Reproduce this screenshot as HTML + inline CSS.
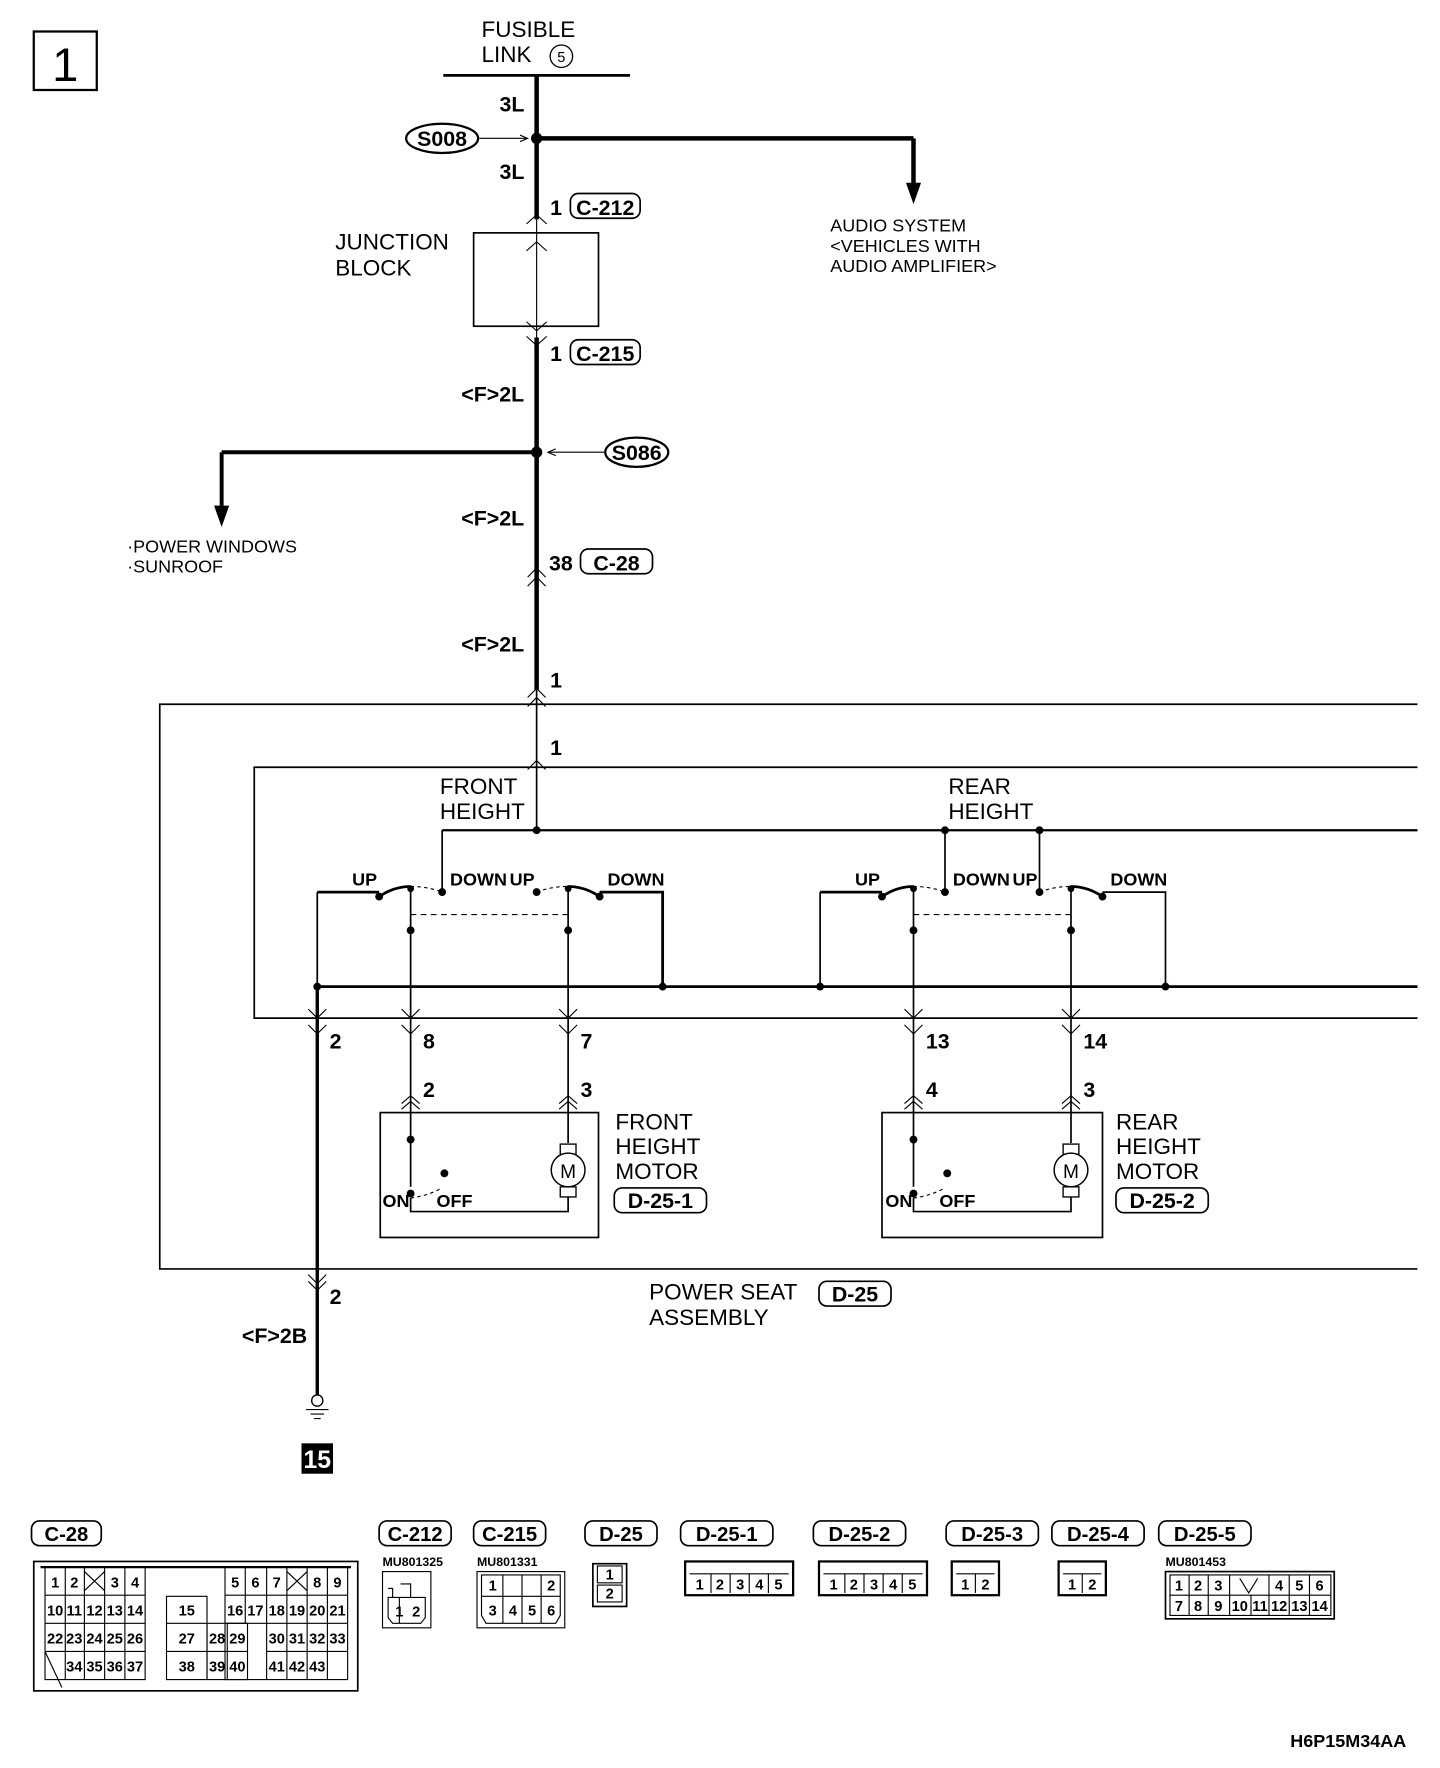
<!DOCTYPE html>
<html><head><meta charset="utf-8"><style>
html,body{margin:0;padding:0;background:#fff;}
svg{display:block;}
text{font-family:"Liberation Sans",sans-serif;fill:#000;}
.b{font-weight:bold;}
</style></head><body>
<svg width="1440" height="1768" viewBox="0 0 1280 1571.6" xmlns="http://www.w3.org/2000/svg">
<defs>
<marker id="ah" markerWidth="8" markerHeight="8" refX="7" refY="4" orient="auto" markerUnits="userSpaceOnUse"><path d="M0,1 L7,4 L0,7" fill="none" stroke="#000" stroke-width="1"/></marker>
</defs>
<g fill="none" stroke="#000">
<!-- box 1 -->
<rect x="30" y="28" width="56" height="52" stroke-width="2"/>
<!-- fusible link -->
<line x1="394" y1="67" x2="560" y2="67" stroke-width="2.5"/>
<circle cx="499" cy="50" r="10" stroke-width="1.2"/>
<!-- main vertical thick -->
<line x1="477" y1="67" x2="477" y2="195" stroke-width="4"/>
<line x1="477" y1="195" x2="477" y2="300" stroke-width="1"/>
<line x1="477" y1="300" x2="477" y2="613" stroke-width="4"/>
<line x1="477" y1="613" x2="477" y2="738" stroke-width="1.5"/>
<!-- S008 branch -->
<line x1="477" y1="123" x2="812" y2="123" stroke-width="4"/>
<line x1="812" y1="123" x2="812" y2="165" stroke-width="4"/>
<path d="M806,163 L812,180 L818,163 Z" fill="#000"/>
<ellipse cx="393" cy="123" rx="32" ry="13" stroke-width="2"/>
<line x1="426" y1="123" x2="469" y2="123" stroke-width="1" marker-end="url(#ah)"/>
<!-- C-212 / C-215 tags -->
<rect x="507" y="172" width="62" height="22" rx="7" stroke-width="1.5"/>
<rect x="507" y="302" width="62" height="22" rx="7" stroke-width="1.5"/>
<!-- junction block -->
<rect x="421" y="207" width="111" height="83" stroke-width="1.5"/>
<path d="M468,223 L477,215 L486,223 M468,199 L477,191 L486,199 M468,286 L477,294 L486,286 M468,299 L477,307 L486,299" stroke-width="1"/>
<!-- S086 branch -->
<line x1="197" y1="402" x2="477" y2="402" stroke-width="3.5"/>
<line x1="197" y1="402" x2="197" y2="452" stroke-width="3.5"/>
<path d="M191,450 L197,467 L203,450 Z" fill="#000"/>
<ellipse cx="566" cy="402" rx="28" ry="13" stroke-width="2"/>
<line x1="537" y1="402" x2="487" y2="402" stroke-width="1" marker-end="url(#ah)"/>
<!-- C-28 tag -->
<rect x="516" y="488" width="64" height="22" rx="7" stroke-width="1.5"/>
<path d="M469,513 L477,505 L485,513 M469,521 L477,513 L485,521" stroke-width="1"/>
<path d="M469,620 L477,612 L485,620 M469,628 L477,620 L485,628" stroke-width="1"/>
<path d="M469,684 L477,676 L485,684" stroke-width="1"/>
<!-- outer box -->
<path d="M1260,626 L142,626 L142,1128 L1260,1128" stroke-width="1.5"/>
<path d="M1260,682 L226,682 L226,905 L1260,905" stroke-width="1.5"/>
<!-- top horizontal -->
<line x1="393" y1="738" x2="1260" y2="738" stroke-width="2"/>
<line x1="393" y1="738" x2="393" y2="793" stroke-width="1.5"/>
<line x1="840" y1="738" x2="840" y2="793" stroke-width="1.5"/>
<line x1="924" y1="738" x2="924" y2="793" stroke-width="1.5"/>
<!-- front switch -->
<path d="M282,793 L337,793 M337,797 Q350,788 365,788" stroke-width="2.5"/>
<path d="M505,788 Q520,788 533,797 M533,793 L589,793 L589,877" stroke-width="2.5"/>
<path d="M282,793 L282,877 M533,793 L589,793 L589,877" stroke-width="1.5"/>
<path d="M365,788 Q380,788 393,793 M477,793 Q490,788 505,788" stroke-width="1" stroke-dasharray="3,3"/>
<line x1="365" y1="813" x2="505" y2="813" stroke-width="1" stroke-dasharray="5,4"/>
<line x1="365" y1="790" x2="365" y2="989" stroke-width="1.5"/>
<line x1="505" y1="790" x2="505" y2="989" stroke-width="1.5"/>
<!-- rear switch -->
<path d="M729,793 L784,793 M784,797 Q797,788 812,788" stroke-width="2.5"/>
<path d="M952,788 Q967,788 980,797" stroke-width="2.5"/>
<path d="M729,793 L729,877 M980,793 L1036,793 L1036,877" stroke-width="1.5"/>
<path d="M812,788 Q827,788 840,793 M924,793 Q937,788 952,788" stroke-width="1" stroke-dasharray="3,3"/>
<line x1="812" y1="813" x2="952" y2="813" stroke-width="1" stroke-dasharray="5,4"/>
<line x1="812" y1="790" x2="812" y2="989" stroke-width="1.5"/>
<line x1="952" y1="790" x2="952" y2="989" stroke-width="1.5"/>
<!-- bus -->
<line x1="282" y1="877" x2="1260" y2="877" stroke-width="2.5"/>
<line x1="282" y1="877" x2="282" y2="1240" stroke-width="3"/>
<!-- connectors at 905 -->
<path d="M274,897 L282,905 L290,897 M274,911 L282,919 L290,911 M357,897 L365,905 L373,897 M357,911 L365,919 L373,911 M497,897 L505,905 L513,897 M497,911 L505,919 L513,911 M804,897 L812,905 L820,897 M804,911 L812,919 L820,911 M944,897 L952,905 L960,897 M944,911 L952,919 L960,911" stroke-width="1"/>
<path d="M357,981 L365,974 L373,981 M357,986 L365,979 L373,986 M497,981 L505,974 L513,981 M497,986 L505,979 L513,986 M804,981 L812,974 L820,981 M804,986 L812,979 L820,986 M944,981 L952,974 L960,981 M944,986 L952,979 L960,986" stroke-width="1"/>
<!-- motors -->
<rect x="338" y="989" width="194" height="111" stroke-width="1.5"/>
<rect x="784" y="989" width="196" height="111" stroke-width="1.5"/>
<path d="M365,989 L365,1055 M365,1065 L365,1077 L505,1077 L505,1064 M505,989 L505,1016" stroke-width="1.5"/>
<path d="M365,1065 Q380,1063 393,1056" stroke-width="1" stroke-dasharray="3,3"/>
<rect x="498" y="1017" width="14" height="9" stroke-width="1.2"/><rect x="498" y="1055" width="14" height="9" stroke-width="1.2"/>
<circle cx="505" cy="1040" r="15" fill="#fff" stroke-width="1.3"/>
<path d="M812,989 L812,1055 M812,1065 L812,1077 L952,1077 L952,1064 M952,989 L952,1016" stroke-width="1.5"/>
<path d="M812,1065 Q827,1063 840,1056" stroke-width="1" stroke-dasharray="3,3"/>
<rect x="945" y="1017" width="14" height="9" stroke-width="1.2"/><rect x="945" y="1055" width="14" height="9" stroke-width="1.2"/>
<circle cx="952" cy="1040" r="15" fill="#fff" stroke-width="1.3"/>
<rect x="546" y="1056" width="82" height="22" rx="7" stroke-width="1.5"/>
<rect x="992" y="1056" width="82" height="22" rx="7" stroke-width="1.5"/>
<rect x="728" y="1139" width="64" height="22" rx="7" stroke-width="1.5"/>
<!-- ground connector -->
<path d="M274,1133 L282,1141 L290,1133 M274,1139 L282,1147 L290,1139" stroke-width="1"/>
<circle cx="282" cy="1245" r="5" stroke-width="1.2"/>
<path d="M272,1253 L292,1253 M276,1257 L288,1257 M279,1261 L285,1261" stroke-width="1"/>
</g>
<!-- dots -->
<g fill="#000">
<circle cx="477" cy="123" r="5"/><circle cx="477" cy="402" r="5"/>
<circle cx="477" cy="738" r="3.5"/><circle cx="840" cy="738" r="3.5"/><circle cx="924" cy="738" r="3.5"/>
<circle cx="337" cy="797" r="3.5"/><circle cx="365" cy="790" r="3"/><circle cx="393" cy="793" r="3.5"/><circle cx="477" cy="793" r="3.5"/><circle cx="505" cy="790" r="3"/><circle cx="533" cy="797" r="3.5"/>
<circle cx="784" cy="797" r="3.5"/><circle cx="812" cy="790" r="3"/><circle cx="840" cy="793" r="3.5"/><circle cx="924" cy="793" r="3.5"/><circle cx="952" cy="790" r="3"/><circle cx="980" cy="797" r="3.5"/>
<circle cx="365" cy="827" r="3.5"/><circle cx="505" cy="827" r="3.5"/><circle cx="812" cy="827" r="3.5"/><circle cx="952" cy="827" r="3.5"/>
<circle cx="282" cy="877" r="3.5"/><circle cx="589" cy="877" r="3.5"/><circle cx="729" cy="877" r="3.5"/><circle cx="1036" cy="877" r="3.5"/>
<circle cx="365" cy="1013" r="3.5"/><circle cx="365" cy="1061" r="3.5"/><circle cx="395" cy="1043" r="3.5"/>
<circle cx="812" cy="1013" r="3.5"/><circle cx="812" cy="1061" r="3.5"/><circle cx="842" cy="1043" r="3.5"/>
<rect x="268" y="1283" width="28" height="27"/>
</g>
<!-- texts -->
<text x="58" y="72" font-size="42" text-anchor="middle">1</text>
<text x="428" y="33" font-size="20">FUSIBLE</text>
<text x="428" y="55" font-size="20">LINK</text>
<text x="499" y="55" font-size="13" text-anchor="middle">5</text>
<text class="b" x="444" y="99" font-size="19">3L</text>
<text class="b" x="444" y="159" font-size="19">3L</text>
<text class="b" x="393" y="130" font-size="19" text-anchor="middle">S008</text>
<text class="b" x="489" y="191" font-size="19">1</text>
<text class="b" x="538" y="191" font-size="19" text-anchor="middle">C-212</text>
<text x="298" y="222" font-size="20">JUNCTION</text>
<text x="298" y="245" font-size="20">BLOCK</text>
<text x="738" y="206" font-size="16">AUDIO SYSTEM</text>
<text x="738" y="224" font-size="16">&lt;VEHICLES WITH</text>
<text x="738" y="242" font-size="16">AUDIO AMPLIFIER&gt;</text>
<text class="b" x="489" y="321" font-size="19">1</text>
<text class="b" x="538" y="321" font-size="19" text-anchor="middle">C-215</text>
<text class="b" x="410" y="357" font-size="19">&lt;F&gt;2L</text>
<text class="b" x="566" y="409" font-size="19" text-anchor="middle">S086</text>
<text x="113" y="491" font-size="16">·POWER WINDOWS</text>
<text x="113" y="509" font-size="16">·SUNROOF</text>
<text class="b" x="410" y="467" font-size="19">&lt;F&gt;2L</text>
<text class="b" x="488" y="507" font-size="19">38</text>
<text class="b" x="548" y="507" font-size="19" text-anchor="middle">C-28</text>
<text class="b" x="410" y="579" font-size="19">&lt;F&gt;2L</text>
<text class="b" x="489" y="611" font-size="19">1</text>
<text class="b" x="489" y="671" font-size="19">1</text>
<text x="391" y="706" font-size="20">FRONT</text>
<text x="391" y="728" font-size="20">HEIGHT</text>
<text x="843" y="706" font-size="20">REAR</text>
<text x="843" y="728" font-size="20">HEIGHT</text>
<g class="b" font-size="16">
<text x="313" y="787">UP</text><text x="400" y="787">DOWN</text><text x="453" y="787">UP</text><text x="540" y="787">DOWN</text>
<text x="760" y="787">UP</text><text x="847" y="787">DOWN</text><text x="900" y="787">UP</text><text x="987" y="787">DOWN</text>
<text x="340" y="1073">ON</text><text x="388" y="1073">OFF</text>
<text x="787" y="1073">ON</text><text x="835" y="1073">OFF</text>
</g>
<g class="b" font-size="19">
<text x="293" y="932">2</text><text x="376" y="932">8</text><text x="516" y="932">7</text><text x="823" y="932">13</text><text x="963" y="932">14</text>
<text x="376" y="975">2</text><text x="516" y="975">3</text><text x="823" y="975">4</text><text x="963" y="975">3</text>
<text x="293" y="1159">2</text>
<text x="215" y="1194">&lt;F&gt;2B</text>
</g>
<text x="505" y="1047" font-size="17" text-anchor="middle">M</text>
<text x="952" y="1047" font-size="17" text-anchor="middle">M</text>
<text x="547" y="1004" font-size="20">FRONT</text>
<text x="547" y="1026" font-size="20">HEIGHT</text>
<text x="547" y="1048" font-size="20">MOTOR</text>
<text class="b" x="587" y="1074" font-size="19" text-anchor="middle">D-25-1</text>
<text x="992" y="1004" font-size="20">REAR</text>
<text x="992" y="1026" font-size="20">HEIGHT</text>
<text x="992" y="1048" font-size="20">MOTOR</text>
<text class="b" x="1033" y="1074" font-size="19" text-anchor="middle">D-25-2</text>
<text x="577" y="1155" font-size="20">POWER SEAT</text>
<text x="577" y="1178" font-size="20">ASSEMBLY</text>
<text class="b" x="760" y="1157" font-size="19" text-anchor="middle">D-25</text>
<text class="b" x="282" y="1305" font-size="22" text-anchor="middle" style="fill:#fff">15</text>

<!-- bottom connector tags -->
<g fill="none" stroke="#000" stroke-width="1.5">
<rect x="28" y="1352" width="62" height="22" rx="7"/>
<rect x="337" y="1352" width="64" height="22" rx="7"/>
<rect x="421" y="1352" width="64" height="22" rx="7"/>
<rect x="520" y="1352" width="64" height="22" rx="7"/>
<rect x="605" y="1352" width="82" height="22" rx="7"/>
<rect x="723" y="1352" width="82" height="22" rx="7"/>
<rect x="841" y="1352" width="82" height="22" rx="7"/>
<rect x="935" y="1352" width="82" height="22" rx="7"/>
<rect x="1030" y="1352" width="82" height="22" rx="7"/>
<!-- C-28 body -->
<rect x="30" y="1388" width="288" height="115"/>
<path d="M36,1393 L312,1393" stroke-width="2"/>
<rect x="40" y="1393" width="89" height="100" stroke-width="1"/>
<rect x="148" y="1419" width="36" height="74" stroke-width="1"/>
<rect x="200" y="1393" width="109" height="100" stroke-width="1"/>
<path d="M40,1418 H129 M40,1443 H129 M40,1468 H129 M58,1393 V1493 M75,1393 V1493 M93,1393 V1493 M111,1393 V1493 M75,1397 L93,1414 M93,1397 L75,1414" stroke-width="1"/>
<path d="M148,1443 H184 M148,1468 H220 M184,1443 V1493 M202,1443 V1493 M184,1443 H220 M184,1493 H220 M220,1443 V1493" stroke-width="1"/>
<path d="M200,1418 H309 M200,1443 H309 M237,1468 H309 M218,1393 V1443 M237,1393 V1493 M255,1393 V1493 M273,1393 V1493 M291,1393 V1493 M255,1397 L273,1414 M273,1397 L255,1414" stroke-width="1"/>
<path d="M40,1468 L55,1500" stroke-width="1"/>
<!-- C-212 -->
<rect x="340" y="1397" width="43" height="50" stroke-width="1"/>
<path d="M345,1420 H378 V1438 L374,1443 H349 L345,1438 Z M355,1420 V1443 M356,1408 H365 V1420 M345,1412 H349 V1420" stroke-width="1"/>
<!-- C-215 -->
<rect x="424" y="1397" width="78" height="50" stroke-width="1"/>
<path d="M428,1400 H498 V1436 L494,1443 H432 L428,1436 Z M428,1419 H498 M447,1419 V1443 M464,1400 V1443 M481,1400 V1443 M447,1400 V1419 M481,1400 V1419" stroke-width="1"/>
<!-- D-25 -->
<rect x="527" y="1390" width="30" height="38"/>
<rect x="531" y="1392" width="22" height="15" stroke-width="1"/><rect x="531" y="1409" width="22" height="15" stroke-width="1"/>
<!-- D-25-1..4 -->
<rect x="609" y="1388" width="96" height="30" stroke-width="2"/>
<path d="M613,1399 H701 M632,1399 V1416 M649,1399 V1416 M666,1399 V1416 M683,1399 V1416" stroke-width="1"/>
<rect x="728" y="1388" width="96" height="30" stroke-width="2"/>
<path d="M732,1399 H820 M751,1399 V1416 M768,1399 V1416 M785,1399 V1416 M802,1399 V1416" stroke-width="1"/>
<rect x="846" y="1388" width="42" height="30" stroke-width="2"/>
<path d="M850,1399 H884 M867,1399 V1416" stroke-width="1"/>
<rect x="941" y="1388" width="42" height="30" stroke-width="2"/>
<path d="M945,1399 H979 M962,1399 V1416" stroke-width="1"/>
<!-- D-25-5 -->
<rect x="1036" y="1397" width="150" height="42"/>
<path d="M1040,1418 H1183 M1040,1400 H1183 V1436 H1040 Z M1057,1400 V1436 M1074,1400 V1436 M1093,1400 V1436 M1112,1418 V1436 M1128,1400 V1436 M1146,1400 V1436 M1164,1400 V1436 M1102,1403 L1110,1416 L1118,1403" stroke-width="1"/>
</g>
<g class="b" font-size="18" text-anchor="middle">
<text x="59" y="1370">C-28</text><text x="369" y="1370">C-212</text><text x="453" y="1370">C-215</text><text x="552" y="1370">D-25</text>
<text x="646" y="1370">D-25-1</text><text x="764" y="1370">D-25-2</text><text x="882" y="1370">D-25-3</text><text x="976" y="1370">D-25-4</text><text x="1071" y="1370">D-25-5</text>
</g>
<g class="b" font-size="11">
<text x="340" y="1392">MU801325</text><text x="424" y="1392">MU801331</text><text x="1036" y="1392">MU801453</text>
</g>
<g class="b" font-size="13" text-anchor="middle">
<text x="49" y="1411">1</text><text x="66" y="1411">2</text><text x="102" y="1411">3</text><text x="120" y="1411">4</text>
<text x="209" y="1411">5</text><text x="227" y="1411">6</text><text x="246" y="1411">7</text><text x="282" y="1411">8</text><text x="300" y="1411">9</text>
<text x="49" y="1436">10</text><text x="66" y="1436">11</text><text x="84" y="1436">12</text><text x="102" y="1436">13</text><text x="120" y="1436">14</text>
<text x="166" y="1436">15</text><text x="209" y="1436">16</text><text x="227" y="1436">17</text><text x="246" y="1436">18</text><text x="264" y="1436">19</text><text x="282" y="1436">20</text><text x="300" y="1436">21</text>
<text x="49" y="1461">22</text><text x="66" y="1461">23</text><text x="84" y="1461">24</text><text x="102" y="1461">25</text><text x="120" y="1461">26</text>
<text x="166" y="1461">27</text><text x="193" y="1461">28</text><text x="211" y="1461">29</text>
<text x="246" y="1461">30</text><text x="264" y="1461">31</text><text x="282" y="1461">32</text><text x="300" y="1461">33</text>
<text x="66" y="1486">34</text><text x="84" y="1486">35</text><text x="102" y="1486">36</text><text x="120" y="1486">37</text>
<text x="166" y="1486">38</text><text x="193" y="1486">39</text><text x="211" y="1486">40</text>
<text x="246" y="1486">41</text><text x="264" y="1486">42</text><text x="282" y="1486">43</text>
<text x="355" y="1437">1</text><text x="370" y="1437">2</text>
<text x="438" y="1414">1</text><text x="490" y="1414">2</text>
<text x="438" y="1436">3</text><text x="456" y="1436">4</text><text x="473" y="1436">5</text><text x="490" y="1436">6</text>
<text x="542" y="1404">1</text><text x="542" y="1421">2</text>
<text x="622" y="1413">1</text><text x="640" y="1413">2</text><text x="658" y="1413">3</text><text x="675" y="1413">4</text><text x="692" y="1413">5</text>
<text x="741" y="1413">1</text><text x="759" y="1413">2</text><text x="777" y="1413">3</text><text x="794" y="1413">4</text><text x="811" y="1413">5</text>
<text x="858" y="1413">1</text><text x="876" y="1413">2</text>
<text x="953" y="1413">1</text><text x="971" y="1413">2</text>
<text x="1048" y="1414">1</text><text x="1065" y="1414">2</text><text x="1083" y="1414">3</text><text x="1137" y="1414">4</text><text x="1155" y="1414">5</text><text x="1173" y="1414">6</text>
<text x="1048" y="1432">7</text><text x="1065" y="1432">8</text><text x="1083" y="1432">9</text><text x="1102" y="1432">10</text><text x="1120" y="1432">11</text><text x="1137" y="1432">12</text><text x="1155" y="1432">13</text><text x="1173" y="1432">14</text>
</g>
<text class="b" x="1250" y="1553" font-size="16" text-anchor="end">H6P15M34AA</text>
</svg>
</body></html>
